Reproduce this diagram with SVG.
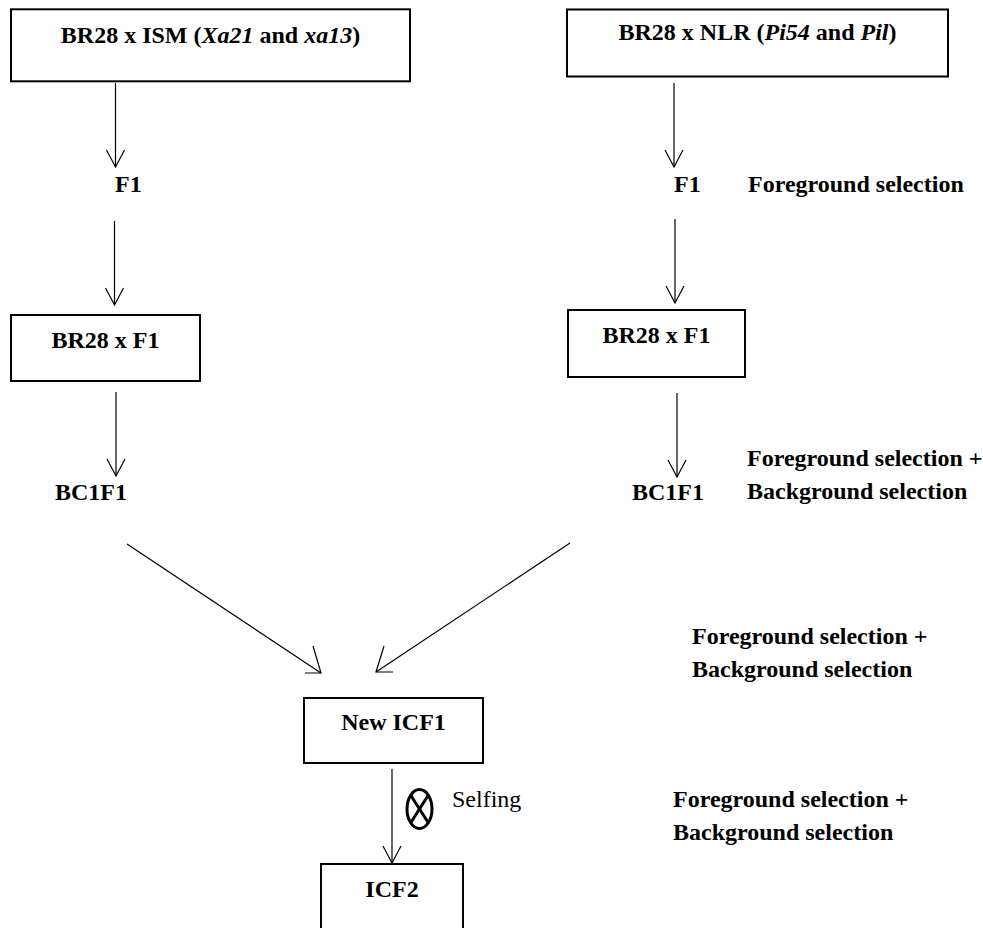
<svg xmlns="http://www.w3.org/2000/svg" width="983" height="928" viewBox="0 0 983 928">
<style>
text{font-family:'Liberation Serif','Times New Roman',Times,'DejaVu Serif',serif;font-size:24px;fill:#000}
.b{font-weight:bold}
.i{font-style:italic}
.box{fill:#fff;stroke:#000;stroke-width:2}
.c{stroke:#000;stroke-width:1.2;fill:none}
.m{text-anchor:middle}
</style>
<defs>
<marker id="ah" markerUnits="userSpaceOnUse" markerWidth="24" markerHeight="24" viewBox="-20 -12 24 24" refX="0" refY="0" orient="auto">
<path d="M-17,-9 L0,0 L-17,9" fill="none" stroke="#000" stroke-width="1.2"/>
</marker>
</defs>
<rect width="983" height="928" fill="#fff"/>
<g id="connectors">
<line class="c" x1="115.5" y1="83" x2="115.5" y2="167" marker-end="url(#ah)"/>
<line class="c" x1="674" y1="83" x2="674" y2="167" marker-end="url(#ah)"/>
<line class="c" x1="114.5" y1="221" x2="114.5" y2="305" marker-end="url(#ah)"/>
<line class="c" x1="675" y1="219" x2="675" y2="303" marker-end="url(#ah)"/>
<line class="c" x1="116" y1="392" x2="116" y2="476" marker-end="url(#ah)"/>
<line class="c" x1="677" y1="393" x2="677" y2="477" marker-end="url(#ah)"/>
<line class="c" x1="127" y1="544" x2="321" y2="673"/>
<polyline class="c" points="313,646 321,673 305,673"/>
<line class="c" x1="570" y1="543" x2="376" y2="672"/>
<polyline class="c" points="384,646 376,672 393,672"/>
<line class="c" x1="392" y1="769" x2="392" y2="863" marker-end="url(#ah)"/>
</g>
<g font-family="Liberation Serif, Times New Roman, serif">
<g id="cross1">
<rect class="box" x="11" y="9.3" width="399" height="72"/>
<text class="b m" x="210.5" y="43">BR28 x ISM (<tspan class="i">Xa21</tspan> and <tspan class="i">xa13</tspan>)</text>
</g>
<g id="cross2">
<rect class="box" x="567" y="9.5" width="381" height="67"/>
<text class="b m" x="757.5" y="40">BR28 x NLR (<tspan class="i">Pi54</tspan> and <tspan class="i">Pil</tspan>)</text>
</g>
<g id="f1-left"><text class="b" x="115" y="192">F1</text></g>
<g id="f1-right"><text class="b" x="674" y="192">F1</text></g>
<g id="label-fg1"><text class="b" x="748" y="192">Foreground selection</text></g>
<g id="bc-left">
<rect class="box" x="11" y="315" width="189" height="66"/>
<text class="b m" x="105.5" y="348">BR28 x F1</text>
</g>
<g id="bc-right">
<rect class="box" x="568" y="310" width="177" height="67"/>
<text class="b m" x="656.5" y="343">BR28 x F1</text>
</g>
<g id="bc1f1-left"><text class="b" x="55" y="500">BC1F1</text></g>
<g id="bc1f1-right"><text class="b" x="632" y="500">BC1F1</text></g>
<g id="label-fgbg1">
<text class="b" x="747" y="466">Foreground selection +</text>
<text class="b" x="747" y="499">Background selection</text>
</g>
<g id="label-fgbg2">
<text class="b" x="692" y="644">Foreground selection +</text>
<text class="b" x="692" y="677">Background selection</text>
</g>
<g id="new-icf1">
<rect class="box" x="304" y="698" width="179" height="65"/>
<text class="b m" x="393.5" y="730">New ICF1</text>
</g>
<g id="selfing">
<ellipse cx="419.5" cy="809" rx="12.5" ry="19.5" fill="none" stroke="#000" stroke-width="3"/>
<line x1="410.7" y1="795.2" x2="428.3" y2="822.8" stroke="#000" stroke-width="3"/>
<line x1="428.3" y1="795.2" x2="410.7" y2="822.8" stroke="#000" stroke-width="3"/>
<text x="452" y="807">Selfing</text>
</g>
<g id="label-fgbg3">
<text class="b" x="673" y="807">Foreground selection +</text>
<text class="b" x="673" y="840">Background selection</text>
</g>
<g id="icf2">
<rect class="box" x="321" y="864" width="142" height="80"/>
<text class="b m" x="392" y="897">ICF2</text>
</g>
</g>
</svg>
